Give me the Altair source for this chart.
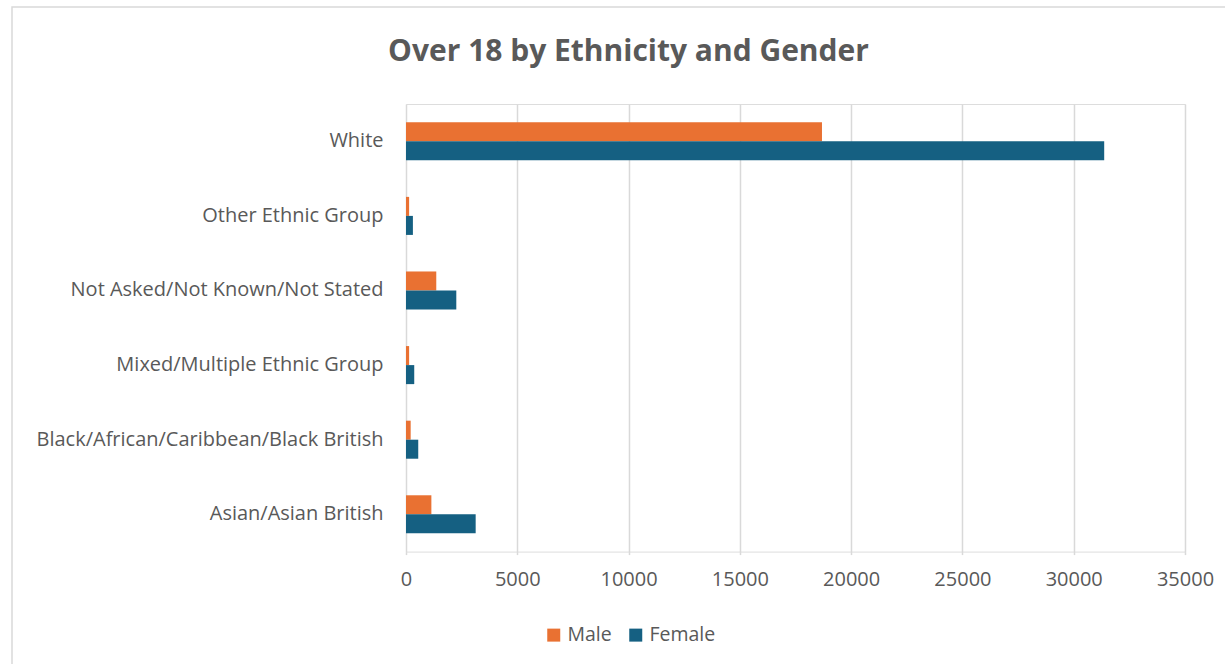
import altair as alt
import pandas as pd

categories = [
    "White",
    "Other Ethnic Group",
    "Not Asked/Not Known/Not Stated",
    "Mixed/Multiple Ethnic Group",
    "Black/African/Caribbean/Black British",
    "Asian/Asian British",
]
male = [18690, 140, 1360, 140, 210, 1140]
female = [31370, 310, 2260, 370, 550, 3130]
genders = ["Male", "Female"]
colors = ["#E97132", "#156082"]
x_ticks = [0, 5000, 10000, 15000, 20000, 25000, 30000, 35000]

rows = []
for c, m, f in zip(categories, male, female):
    rows.append({"category": c, "gender": "Male", "value": m})
    rows.append({"category": c, "gender": "Female", "value": f})
df = pd.DataFrame(rows)

FONT = "Open Sans"
TXT = "#595959"

bars = alt.Chart(df).mark_bar().encode(
    x=alt.X(
        "value:Q",
        scale=alt.Scale(domain=[0, 35000], nice=False),
        axis=alt.Axis(
            values=x_ticks,
            title=None,
            domain=False,
            ticks=True,
            tickSize=3,
            tickColor="#d9d9d9",
            tickWidth=1.5,
            grid=True,
            gridColor="#d9d9d9",
            gridWidth=1.5,
            labelFont=FONT,
            labelFontSize=20,
            labelColor=TXT,
            labelPadding=15,
            labelFlush=False,
            format="d",
        ),
    ),
    y=alt.Y(
        "category:N",
        sort=categories,
        scale=alt.Scale(paddingInner=0.49, paddingOuter=0.245),
        axis=alt.Axis(
            title=None,
            domain=False,
            ticks=False,
            grid=False,
            labelFont=FONT,
            labelFontSize=20,
            labelColor=TXT,
            labelPadding=23,
            labelLimit=500,
        ),
    ),
    yOffset=alt.YOffset("gender:N", sort=genders, scale=alt.Scale(paddingInner=0, paddingOuter=0)),
    color=alt.Color(
        "gender:N",
        sort=genders,
        scale=alt.Scale(domain=genders, range=colors),
        legend=alt.Legend(
            title=None,
            orient="none",
            legendX=138,
            legendY=521,
            direction="horizontal",
            symbolType="square",
            symbolSize=169,
            symbolStrokeWidth=0,
            labelFont=FONT,
            labelFontSize=19.5,
            labelColor=TXT,
            columnPadding=14,
            labelOffset=4,
        ),
    ),
)

frame = alt.Chart(pd.DataFrame({"a": [0]})).mark_rect(
    fill="transparent", stroke="#d9d9d9", strokeWidth=1.5, clip=False
).encode(
    x=alt.value(-394), x2=alt.value(834), y=alt.value(-97), y2=alt.value(580)
)

chart = (
    alt.layer(frame, bars)
    .properties(
        width=779,
        height=447.6,
        padding={"left": 406, "top": 104, "right": 40, "bottom": 112},
        autosize=alt.AutoSizeParams(type="none"),
        title=alt.TitleParams(
            "Over 18 by Ethnicity and Gender",
            font=FONT,
            fontSize=30,
            fontWeight="bold",
            color=TXT,
            anchor="middle",
            dx=-167,
            offset=-61,
        ),
    )
    .configure_view(stroke="transparent", strokeWidth=0)
    .configure(background="white")
)

chart.save("out.html", embed_options={"renderer": "svg", "actions": False})
